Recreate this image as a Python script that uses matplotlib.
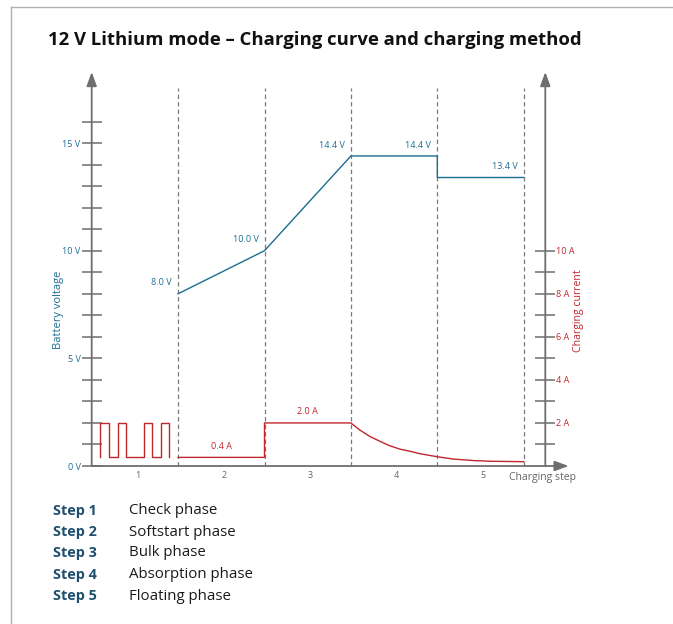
import matplotlib
matplotlib.use("Agg")
import matplotlib.pyplot as plt
from matplotlib.lines import Line2D

# ---------------- data ----------------
title = "12 V Lithium mode – Charging curve and charging method"
steps = [1, 2, 3, 4, 5]
step_names = ["Check phase", "Softstart phase", "Bulk phase", "Absorption phase", "Floating phase"]

volt_x = [1.0, 2.0, 3.0, 4.0, 4.0, 5.0]
volt_v = [8.0, 10.0, 14.4, 14.4, 13.4, 13.4]
volt_labels = ["8.0 V", "10.0 V", "14.4 V", "14.4 V", "13.4 V"]
volt_label_x = [1.0, 2.0, 3.0, 4.0, 5.0]
volt_label_v = [8.0, 10.0, 14.4, 14.4, 13.4]

check_x = [0.1, 0.1, 0.2, 0.3, 0.4, 0.6, 0.7, 0.8, 0.9]
check_a = [0.4, 2.0, 0.4, 2.0, 0.4, 2.0, 0.4, 2.0, 0.4]

current_x = [1.0, 2.0, 2.0, 3.0, 3.1, 3.22, 3.34, 3.45, 3.57, 3.69, 3.8, 4.0, 4.19, 4.43, 4.62, 5.0]
current_a = [0.4, 0.4, 2.0, 2.0, 1.68, 1.37, 1.14, 0.94, 0.78, 0.68, 0.57, 0.43, 0.32, 0.25, 0.22, 0.20]
current_labels = ["0.4 A", "2.0 A"]
current_label_x = [1.5, 2.5]
current_label_a = [0.4, 2.0]

volt_ticks = list(range(0, 17))
volt_ticklabels = {0: "0 V", 5: "5 V", 10: "10 V", 15: "15 V"}
amp_ticks = list(range(1, 11))
amp_ticklabels = {2: "2 A", 4: "4 A", 6: "6 A", 8: "8 A", 10: "10 A"}

# ---------------- style ----------------
BLUE = "#1c6d92"
RED = "#c0272d"
GRAY = "#6e6e6e"
STEPBLUE = "#1e4f6f"
FONT = ["Open Sans", "DejaVu Sans"]
plt.rcParams["font.family"] = FONT

W, H = 673, 624
fig = plt.figure(figsize=(W / 100, H / 100), dpi=100)

# axes geometry in pixels
x0_px, step_px = 91.7, 86.4
y0_px, unit_px = 466.0, 21.53
XMAX, YMAX = 5.6, 18.5
ax = fig.add_axes([x0_px / W, (H - y0_px) / H, XMAX * step_px / W, YMAX * unit_px / H])
ax.set_xlim(0, XMAX)
ax.set_ylim(0, YMAX)
for s in ax.spines.values():
    s.set_visible(False)
ax.set_xticks([])

RIGHT_X = 5.25
ARROW_TOP = 18.3

# axis lines with arrows
arrow_kw = dict(arrowstyle="-|>,head_length=0.6,head_width=0.22", color=GRAY, lw=1.3,
                shrinkA=0, shrinkB=0, mutation_scale=14)
ax.annotate("", xy=(0, ARROW_TOP), xytext=(0, 0), arrowprops=arrow_kw, annotation_clip=False)
ax.annotate("", xy=(RIGHT_X, ARROW_TOP), xytext=(RIGHT_X, 0), arrowprops=arrow_kw, annotation_clip=False)
ax.annotate("", xy=(5.52, 0), xytext=(0, 0), arrowprops=arrow_kw, annotation_clip=False)

# left ticks
ax.set_yticks(volt_ticks)
ax.set_yticklabels([volt_ticklabels.get(t, "") for t in volt_ticks])
ax.tick_params(axis="y", direction="inout", length=14, width=1.1, color=GRAY,
               labelsize=6.5, labelcolor=BLUE, pad=1)

# right axis
sec = ax.secondary_yaxis(RIGHT_X / XMAX)
for s in sec.spines.values():
    s.set_visible(False)
sec.set_yticks(amp_ticks)
sec.set_yticklabels([amp_ticklabels.get(t, "") for t in amp_ticks])
sec.tick_params(axis="y", direction="inout", length=14, width=1.1, color=GRAY,
                labelsize=6.5, labelcolor=RED, pad=1)

# dashed step boundaries
for s in steps:
    ax.plot([s, s], [0, 17.55], ls=(0, (3.5, 2.5)), color="#7a7a7a", lw=0.9, clip_on=False)

# step numbers
for s in steps:
    ax.text(s - 0.47, -0.42, str(s), ha="center", va="center", fontsize=6.5, color="#666666")
ax.text(5.6, -0.55, "Charging step", ha="right", va="center", fontsize=7.5, color="#666666")

# voltage
ax.plot(volt_x, volt_v, color=BLUE, lw=1.0, clip_on=False)
for lab, lx, lv in zip(volt_labels, volt_label_x, volt_label_v):
    ax.text(lx - 0.07, lv + 0.5, lab, ha="right", va="center", fontsize=6.5, color=BLUE)

# current
ax.plot(check_x, check_a, color=RED, lw=1.0, drawstyle="steps-post", clip_on=False)
ax.plot(current_x, current_a, color=RED, lw=1.0, clip_on=False)
for lab, lx, la in zip(current_labels, current_label_x, current_label_a):
    ax.text(lx, la + 0.52, lab, ha="center", va="center", fontsize=6.5, color=RED)

# axis titles
ax.text(-0.39, 7.25, "Battery voltage", rotation=90, ha="center", va="center",
        fontsize=8.0, color=BLUE)
ax.text(5.64, 7.2, "Charging current", rotation=90, ha="center", va="center",
        fontsize=7.6, color=RED)

# title
fig.text(48 / W, 1 - 40 / H, title, ha="left", va="center", fontsize=13.3,
         fontweight="bold", color="#111111")

# step legend
rows_y = [511, 532, 553, 575, 596]
for s, name, ry in zip(steps, step_names, rows_y):
    fig.text(53 / W, 1 - ry / H, f"Step {s}", ha="left", va="center", fontsize=10.4,
             fontweight="bold", color=STEPBLUE)
    fig.text(129 / W, 1 - ry / H, name, ha="left", va="center", fontsize=10.8, color="#1a1a1a")

# frame lines
fig.add_artist(Line2D([10.5 / W, 10.5 / W], [0, 1 - 7 / H], transform=fig.transFigure,
                      color="#b0b0b0", lw=1.0))
fig.add_artist(Line2D([10.5 / W, 1], [1 - 7 / H, 1 - 7 / H], transform=fig.transFigure,
                      color="#b0b0b0", lw=1.0))

fig.savefig("out.png", dpi=100)
